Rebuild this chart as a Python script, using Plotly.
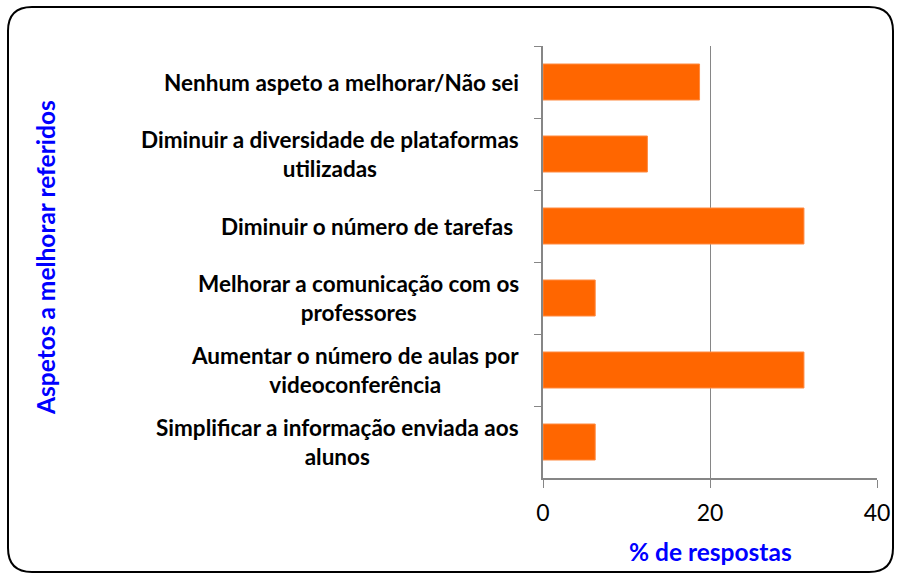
import plotly.graph_objects as go

categories = [
    "Nenhum aspeto a melhorar/Não sei",
    "Diminuir a diversidade de plataformas<br>utilizadas",
    "Diminuir o número de tarefas ",
    "Melhorar a comunicação com os<br>professores",
    "Aumentar o número de aulas por<br>videoconferência",
    "Simplificar a informação enviada aos<br>alunos",
]
values = [18.75, 12.5, 31.25, 6.25, 31.25, 6.25]
x_ticks = [0, 20, 40]
x_title = "% de respostas"
y_title = "Aspetos a melhorar referidos"

W, H = 899, 575
L, R, T, B = 543, 22, 46, 97
pw, ph = W - L - R, H - T - B

def px(x):
    return (x - L) / pw

def py(y):
    return (H - B - y) / ph

fig = go.Figure()
fig.add_trace(go.Bar(
    y=categories, x=values, orientation="h",
    marker=dict(color="#FF6600", line=dict(color="#FF8A40", width=1)),
    width=0.5, showlegend=False,
))

annotations = []
for c in categories:
    annotations.append(dict(
        x=px(521), xref="paper", y=c, yref="y", text=c, showarrow=False,
        xanchor="right", align="center",
        font=dict(family="Lato", size=22.5, color="black", weight="bold"),
    ))
annotations.append(dict(
    x=px(45), xref="paper", y=py(257), yref="paper", text=y_title, showarrow=False,
    textangle=-90, xanchor="center", yanchor="middle",
    font=dict(family="Lato", size=24.5, color="#0000FF", weight="bold"),
))
annotations.append(dict(
    x=0.5, xref="paper", y=py(551), yref="paper", text=x_title, showarrow=False,
    xanchor="center", yanchor="middle",
    font=dict(family="Lato", size=24.5, color="#0000FF", weight="bold"),
))

# rounded border
x0, x1, y0, y1, r = 8, 893, 7, 572, 24
path = (
    f"M {px(x0+r)},{py(y0)} L {px(x1-r)},{py(y0)} Q {px(x1)},{py(y0)} {px(x1)},{py(y0+r)} "
    f"L {px(x1)},{py(y1-r)} Q {px(x1)},{py(y1)} {px(x1-r)},{py(y1)} "
    f"L {px(x0+r)},{py(y1)} Q {px(x0)},{py(y1)} {px(x0)},{py(y1-r)} "
    f"L {px(x0)},{py(y0+r)} Q {px(x0)},{py(y0)} {px(x0+r)},{py(y0)} Z"
)

fig.update_layout(
    width=W, height=H,
    margin=dict(l=L, r=R, t=T, b=B, autoexpand=False),
    paper_bgcolor="white", plot_bgcolor="white",
    annotations=annotations,
    shapes=[dict(type="path", path=path, xref="paper", yref="paper",
                 line=dict(color="black", width=2), layer="above")],
    bargap=0.5,
)
fig.update_xaxes(
    range=[0, 40], tickvals=x_ticks, ticks="outside", ticklen=8, tickcolor="#868686",
    showgrid=True, gridcolor="#868686", gridwidth=1,
    showline=True, linecolor="#868686", linewidth=2, zeroline=False,
    tickfont=dict(family="Lato", size=23, color="black"), ticklabelstandoff=5,
)
fig.update_yaxes(
    autorange="reversed", showticklabels=False, tickson="boundaries",
    ticks="outside", ticklen=7, tickcolor="#868686",
    showline=True, linecolor="#868686", linewidth=2, showgrid=False,
)

fig.write_html("out.html", config={"displayModeBar": False},
               post_script="document.body.style.margin='0';")
